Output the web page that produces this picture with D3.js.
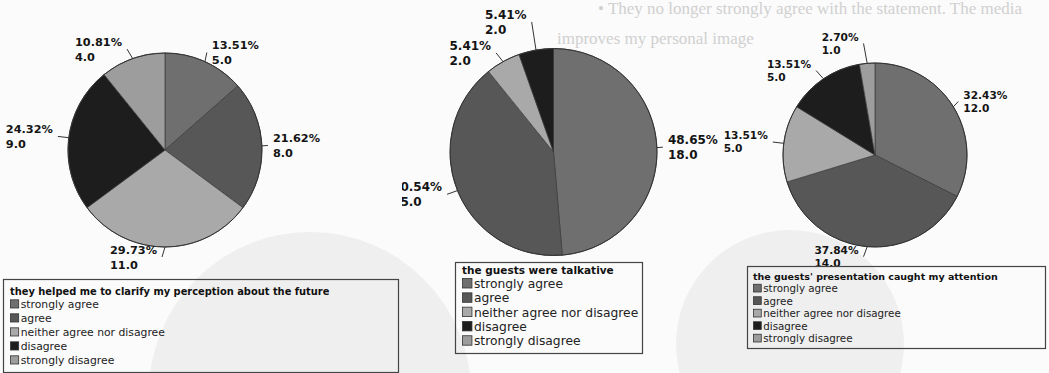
<!DOCTYPE html>
<html><head><meta charset="utf-8">
<script src="https://cdn.jsdelivr.net/npm/d3@7"></script>
<style>
html,body{margin:0;padding:0;background:#fbfbfb;}
svg{display:block;}
</style></head><body>
<svg id="c" width="1049" height="373"></svg>
<script>
// ---------- data ----------
const categories = ["strongly agree", "agree", "neither agree nor disagree", "disagree", "strongly disagree"];
const titles = [
  "they helped me to clarify my perception about the future",
  "the guests were talkative",
  "the guests' presentation caught my attention"
];
const valuesFuture    = [5, 8, 11, 9, 4];
const valuesTalkative = [18, 15, 2, 2, 0];
const valuesAttention = [12, 14, 5, 5, 1];
const ghostLines = ["•    They no longer strongly agree with the statement. The media", "improves my personal image"];

// ---------- style / layout ----------
const palette = ["#6f6f6f", "#575757", "#a9a9a9", "#1d1d1d", "#9d9d9d"];
const panels = [
  { values: valuesFuture, title: titles[0], cx: 165, cy: 150, r: 97, font: 11.3, lead: 15, clip: [0, 400],
    legend: { x: 3, y: 279, w: 395, h: 93, titleFont: 9.9, itemFont: 10.8, pad: 7, titleBase: 16, firstRow: 29, step: 14 } },
  { values: valuesTalkative, title: titles[1], cx: 553.5, cy: 152, r: 103.5, font: 12, lead: 15, clip: [402, 722],
    legend: { x: 455, y: 262, w: 187, h: 91, titleFont: 10.5, itemFont: 12.3, pad: 7, titleBase: 12, firstRow: 26, step: 14.3 } },
  { values: valuesAttention, title: titles[2], cx: 875, cy: 155, r: 92, font: 10.6, lead: 13, clip: [700, 1049],
    legend: { x: 747, y: 266, w: 298, h: 82, titleFont: 9.5, itemFont: 10.3, pad: 6, titleBase: 14, firstRow: 26, step: 12.5 } }
];

const svg = d3.select("#c");
const W = 1049, H = 373;

// faint bleed-through from the reverse page of the scan
const ghost = svg.append("g");
ghost.append("circle").attr("cx", 310).attr("cy", 393).attr("r", 161).attr("fill", "#efefef");
ghost.append("circle").attr("cx", 790).attr("cy", 344).attr("r", 114).attr("fill", "#efefef");
ghost.selectAll("text.gh").data(ghostLines).join("text")
  .attr("x", (d, i) => i === 0 ? 598 : 557)
  .attr("y", (d, i) => i === 0 ? 14 : 44)
  .attr("font-family", "Liberation Serif, DejaVu Serif, serif")
  .attr("font-size", 17).attr("fill", "#d0d0d0").text(d => d);

const defs = svg.append("defs");
const fmtPct = d3.format(".2%");
const fmtVal = d3.format(".1f");

panels.forEach((p, pi) => {
  defs.append("clipPath").attr("id", "clip" + pi)
    .append("rect").attr("x", p.clip[0]).attr("y", 0).attr("width", p.clip[1] - p.clip[0]).attr("height", H);
  const g = svg.append("g").attr("clip-path", `url(#clip${pi})`);

  const total = d3.sum(p.values);
  const pie = d3.pie().sort(null).value(d => d.value);
  const data = pie(p.values.map((v, i) => ({ value: v, cat: categories[i], idx: i })));
  const arc = d3.arc().innerRadius(0).outerRadius(p.r);
  const color = d3.scaleOrdinal().domain(categories).range(palette);

  const pg = g.append("g").attr("transform", `translate(${p.cx},${p.cy})`);
  pg.selectAll("path").data(data.filter(d => d.data.value > 0)).join("path")
    .attr("d", arc).attr("fill", d => color(d.data.cat))
    .attr("stroke", "#3a3a3a").attr("stroke-width", 0.7);
  pg.append("circle").attr("r", p.r).attr("fill", "none").attr("stroke", "#333").attr("stroke-width", 1);

  // labels
  const labs = data.filter(d => d.data.value > 0).map(d => {
    const a = (d.startAngle + d.endAngle) / 2;
    const s = Math.sin(a), c = Math.cos(a);
    const left = a >= Math.PI - 1e-6;
    return {
      d, s, c, left,
      px: p.cx + p.r * s, py: p.cy - p.r * c,
      yc: p.cy - (p.r + 10) * c,
      h: left ? 8 + 8 * Math.abs(s) : 4 + 7 * Math.abs(s),
      t1: fmtPct(d.data.value / total), t2: fmtVal(d.data.value)
    };
  });
  const minGap = 2 * p.lead + 1;
  [true, false].forEach(side => {
    const arr = labs.filter(l => l.left === side).sort((a, b) => a.yc - b.yc);
    for (let i = arr.length - 2; i >= 0; i--) {
      if (arr[i].yc > arr[i + 1].yc - minGap) arr[i].yc = arr[i + 1].yc - minGap;
    }
  });

  labs.forEach(l => {
    const tg = g.append("g");
    const b1 = l.yc - p.lead / 2 + 0.365 * p.font;
    const t1 = tg.append("text").attr("y", b1).text(l.t1);
    const t2 = tg.append("text").attr("y", b1 + p.lead).text(l.t2);
    tg.selectAll("text").attr("font-family", "DejaVu Sans, sans-serif").attr("font-weight", "bold")
      .attr("font-size", p.font).attr("fill", "#141414");
    const w = Math.max(t1.node().getComputedTextLength(), t2.node().getComputedTextLength());
    const bx = l.left ? l.px - l.h - w : l.px + l.h;
    tg.selectAll("text").attr("x", bx);
    if (l.h > 6) {
      const ex = l.left ? bx + w + 5 : bx - 5;
      g.append("line").attr("x1", l.px).attr("y1", l.py).attr("x2", ex).attr("y2", l.yc)
        .attr("stroke", "#333").attr("stroke-width", 1);
    }
  });

  // legend
  const L = p.legend;
  const lg = svg.append("g");
  lg.append("rect").attr("x", L.x + 0.5).attr("y", L.y + 0.5).attr("width", L.w).attr("height", L.h)
    .attr("fill", "none").attr("stroke", "#444").attr("stroke-width", 1.2);
  lg.append("text").attr("x", L.x + L.pad).attr("y", L.y + L.titleBase)
    .attr("font-family", "DejaVu Sans, sans-serif").attr("font-weight", "bold")
    .attr("font-size", L.titleFont).attr("fill", "#111").text(p.title);
  const sz = 0.85 * L.itemFont;
  const rows = lg.selectAll("g.row").data(categories).join("g")
    .attr("transform", (d, i) => `translate(${L.x + L.pad},${L.y + L.firstRow + i * L.step})`);
  rows.append("rect").attr("x", 0.5).attr("y", -sz + 1).attr("width", sz - 1).attr("height", sz - 1)
    .attr("fill", d => color(d)).attr("stroke", "#333").attr("stroke-width", 0.8);
  rows.append("text").attr("x", sz + 1.5).attr("y", 0)
    .attr("font-family", "DejaVu Sans, sans-serif").attr("font-size", L.itemFont).attr("fill", "#222")
    .text(d => d);
});
</script>
</body></html>
